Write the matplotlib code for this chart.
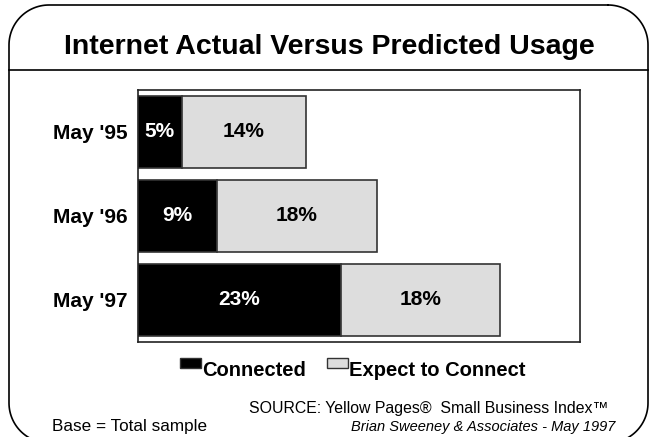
import numpy as np
import matplotlib.pyplot as plt
from matplotlib.patches import Rectangle

plt.rcParams['font.family'] = ['Liberation Sans', 'DejaVu Sans']

# Survey results by wave
periods = ["May '95", "May '96", "May '97"]
connected = [5, 9, 23]
expect_to_connect = [14, 18, 18]
series_names = ['Connected', 'Expect to Connect']
series_colors = ['black', '#dddddd']

fig = plt.figure(figsize=(6.58, 4.37), dpi=100)

# Decoration layer in pixel coordinates: rounded frame, title rule, legend keys
deco = fig.add_axes([0, 0, 1, 1], zorder=0)
deco.set_xlim(0, 658)
deco.set_ylim(437, 0)
deco.axis('off')


def rounded_outline(x0, y0, x1, y1, r, n=30):
    # corner centres and start angles, going clockwise on screen
    corners = [(x1 - r, y0 + r, -90), (x1 - r, y1 - r, 0),
               (x0 + r, y1 - r, 90), (x0 + r, y0 + r, 180)]
    xs, ys = [], []
    for cx, cy, a0 in corners:
        t = np.radians(np.linspace(a0, a0 + 90, n))
        xs.extend(cx + r * np.cos(t))
        ys.extend(cy + r * np.sin(t))
    xs.append(xs[0])
    ys.append(ys[0])
    return xs, ys


fx, fy = rounded_outline(9, 5, 648, 443, 40)
deco.plot(fx, fy, color='black', linewidth=1.2, clip_on=True)
deco.plot([9, 648], [70, 70], color='black', linewidth=1.2)

deco.text(329, 47, 'Internet Actual Versus Predicted Usage',
          ha='center', va='center', fontsize=20.5, fontweight='bold')

# Legend drawn by hand so the keys sit high like the old slide style
for (kx, tx), name, col in zip([(180, 202), (327, 349)], series_names, series_colors):
    deco.add_patch(Rectangle((kx, 358), 21, 10, facecolor=col, edgecolor='#333333', linewidth=1))
    deco.text(tx, 370, name, ha='left', va='center', fontsize=14.5, fontweight='bold')

ax = fig.add_axes([0.2093, 0.218, 0.6722, 0.576], zorder=1)
y = range(len(periods))
b1 = ax.barh(y, connected, height=0.857, color=series_colors[0], edgecolor='#333333', linewidth=1.2)
b2 = ax.barh(y, expect_to_connect, left=connected, height=0.857, color=series_colors[1],
             edgecolor='#333333', linewidth=1.2)
ax.bar_label(b1, labels=[f'{v}%' for v in connected], label_type='center',
             color='white', fontsize=15, fontweight='bold')
ax.bar_label(b2, labels=[f'{v}%' for v in expect_to_connect], label_type='center',
             color='black', fontsize=15, fontweight='bold')

ax.set_xlim(0, 50)
ax.set_ylim(2.5, -0.5)
ax.set_xticks([])
ax.set_yticks(list(y))
ax.set_yticklabels(periods, fontsize=15, fontweight='bold')
ax.tick_params(axis='y', length=0, pad=7)
for s in ax.spines.values():
    s.set_linewidth(1.2)
    s.set_color('#222222')

# Footer notes
deco.text(608, 409, 'SOURCE: Yellow Pages\u00ae  Small Business Index\u2122',
          ha='right', va='center', fontsize=11.4)
deco.text(52, 427, 'Base = Total sample', ha='left', va='center', fontsize=12.3)
deco.text(615, 427, 'Brian Sweeney & Associates - May 1997',
          ha='right', va='center', fontsize=10.5, style='italic')

fig.savefig('out.png', dpi=100)
